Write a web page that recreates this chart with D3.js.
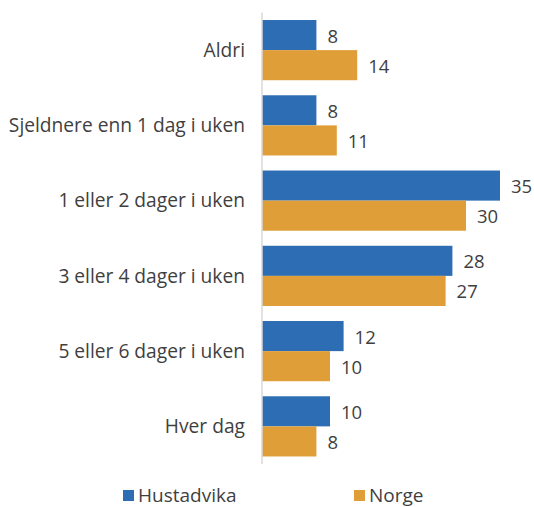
<!DOCTYPE html>
<html>
<head>
<meta charset="utf-8">
<script src="https://cdn.jsdelivr.net/npm/d3@7"></script>
<style>
  html, body { margin: 0; padding: 0; background: #ffffff; }
  svg text { font-family: "Open Sans", "DejaVu Sans", sans-serif; }
</style>
</head>
<body>
<svg id="chart" width="534" height="507"></svg>
<script>
// Frequency categories (top to bottom)
const categories = [
  "Aldri",
  "Sjeldnere enn 1 dag i uken",
  "1 eller 2 dager i uken",
  "3 eller 4 dager i uken",
  "5 eller 6 dager i uken",
  "Hver dag"
];
const seriesNames = ["Hustadvika", "Norge"];
const hustadvika = [8, 8, 35, 28, 12, 10];
const norge = [14, 11, 30, 27, 10, 8];
const colors = ["#2c6db3", "#e09e38"];

const svg = d3.select("#chart");
const axisX = 262;

const y = d3.scaleBand()
  .domain(categories)
  .range([12.5, 464])
  .paddingInner(0.2)
  .paddingOuter(0.1);

const ySub = d3.scaleBand()
  .domain(seriesNames)
  .range([0, y.bandwidth()])
  .padding(0);

const x = d3.scaleLinear()
  .domain([0, 35])
  .range([axisX, axisX + 238]);

const rows = categories.map((c, i) => ({
  cat: c,
  vals: [
    { s: seriesNames[0], v: hustadvika[i], color: colors[0] },
    { s: seriesNames[1], v: norge[i], color: colors[1] }
  ]
}));

const g = svg.selectAll("g.row").data(rows).join("g")
  .attr("class", "row")
  .attr("transform", d => `translate(0,${y(d.cat)})`);

g.selectAll("rect").data(d => d.vals).join("rect")
  .attr("x", x(0))
  .attr("y", d => ySub(d.s))
  .attr("width", d => x(d.v) - x(0))
  .attr("height", ySub.bandwidth())
  .attr("fill", d => d.color);

g.selectAll("text.val").data(d => d.vals).join("text")
  .attr("class", "val")
  .attr("x", d => x(d.v) + 11)
  .attr("y", d => ySub(d.s) + ySub.bandwidth() / 2 + 1)
  .attr("dy", "0.35em")
  .attr("font-size", 18.5)
  .attr("fill", "#3f3f3f")
  .text(d => d.v);

// Category labels
svg.selectAll("text.cat").data(categories).join("text")
  .attr("class", "cat")
  .attr("x", 245)
  .attr("y", d => y(d) + y.bandwidth() / 2)
  .attr("dy", "0.35em")
  .attr("text-anchor", "end")
  .attr("font-size", 19.2)
  .attr("fill", "#3f3f3f")
  .text(d => d);

// Category axis line
svg.append("line")
  .attr("x1", axisX).attr("x2", axisX)
  .attr("y1", 12.5).attr("y2", 464)
  .attr("stroke", "#d9d9d9")
  .attr("stroke-width", 1.5);

// Legend
const legendX = [123, 354];
const leg = svg.selectAll("g.leg").data(seriesNames).join("g")
  .attr("class", "leg")
  .attr("transform", (d, i) => `translate(${legendX[i]},490)`);
leg.append("rect")
  .attr("width", 11).attr("height", 11)
  .attr("fill", (d, i) => colors[i]);
leg.append("text")
  .attr("x", 15)
  .attr("y", 5.5)
  .attr("dy", "0.35em")
  .attr("font-size", 19)
  .attr("fill", "#3f3f3f")
  .text(d => d);
</script>
</body>
</html>
